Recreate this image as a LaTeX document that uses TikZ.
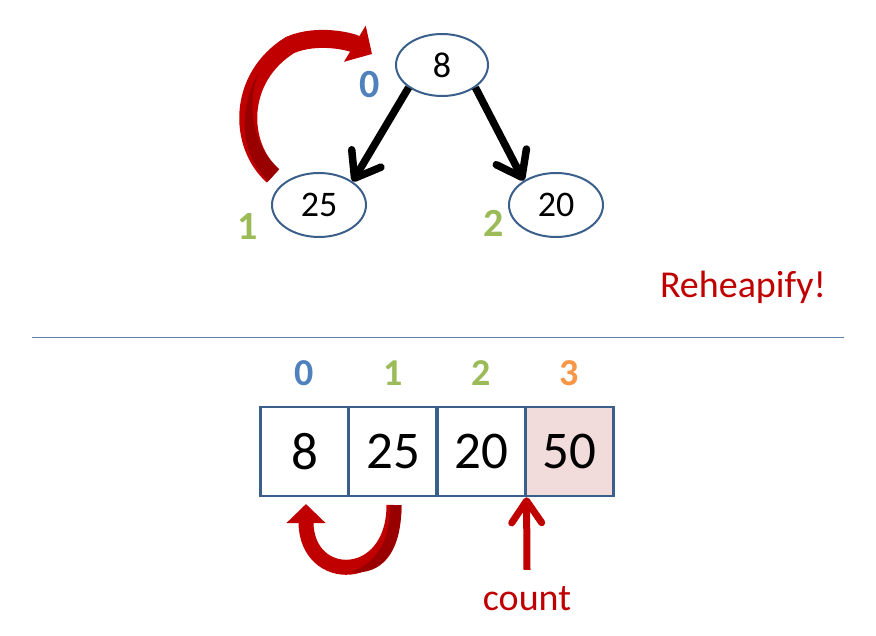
\documentclass[tikz,border=0pt]{standalone}
\usepackage{fontspec}
\setmainfont{Carlito}
\usetikzlibrary{arrows.meta,shapes.geometric}
\definecolor{nodeblue}{HTML}{3A5F8B}
\definecolor{idxblue}{HTML}{4F81BD}
\definecolor{idxgreen}{HTML}{9BBB59}
\definecolor{idxorange}{HTML}{F79646}
\definecolor{myred}{HTML}{C00000}
\definecolor{darkred}{HTML}{990000}
\definecolor{pinkfill}{HTML}{F2DCDB}
\definecolor{sepcol}{HTML}{5F7FA8}
\begin{document}
\begin{tikzpicture}[x=1pt,y=-1pt,
  treenode/.style={ellipse, draw=nodeblue, line width=2pt, minimum width=92pt, minimum height=62pt, inner sep=0pt, font=\fontsize{36}{43}\selectfont},
  cell/.style={rectangle, draw=nodeblue, line width=2.6pt, minimum width=88.5pt, minimum height=89pt, inner sep=0pt, font=\fontsize{53}{62}\selectfont},
  idx/.style={font=\bfseries\fontsize{38}{45}\selectfont, inner sep=0pt, anchor=base},
  treeidx/.style={font=\bfseries\fontsize{40}{48}\selectfont, inner sep=0pt, anchor=base},
  redtext/.style={text=myred, font=\fontsize{38}{45}\selectfont, inner sep=0pt, anchor=base},
  treearrow/.style={line width=7.5pt, -{Straight Barb[round, length=23pt, width=34pt]}},
  countarrow/.style={draw=myred, line width=7pt, -{Straight Barb[round, length=22pt, width=30pt]}},
  bigredtop/.style={draw=myred, line width=18pt, -{Triangle[length=20pt, width=41pt]}},
  bigredbot/.style={draw=myred, line width=15pt, -{Triangle[length=19pt, width=38pt]}},
  sepline/.style={draw=sepcol, line width=1pt}
]
\useasboundingbox (0,0) rectangle (876,636);

% tree
\node[treenode] (n8) at (442,65) {8};
\node[treenode, minimum width=94pt, minimum height=64pt] (n25) at (319,205) {25};
\node[treenode, minimum width=94pt, minimum height=64pt] (n20) at (556,205) {20};
\draw[treearrow] (n8.214) -- (n25.35);
\draw[treearrow] (n8.326) -- (n20.143);

\node[treeidx, text=idxblue] (t0) at (370,98) {0};
\node[treeidx, text=idxgreen] (t1) at (248,240) {1};
\node[treeidx, text=idxgreen] (t2) at (494,237) {2};

% top curved red arrow
\draw[bigredtop] (273,176) .. controls (238,145) and (237,78) .. (290,45)
   .. controls (318,33) and (352,42) .. (372,54);
\fill[darkred] (268.5,181) -- (279,169) .. controls (250,143) and (247,100) .. (259,72)
   .. controls (242,100) and (235,150) .. (268.5,181) -- cycle;

% heading
\node[redtext] (reh) at (743,298) {Reheapify!};

% separator
\coordinate (sepL) at (32,338);
\coordinate (sepR) at (844,338);
\draw[sepline] (sepL) -- (sepR);

% array
\node[cell] (c0) at (304.5,451.5) {8};
\node[cell] (c1) at (393,451.5) {25};
\node[cell] (c2) at (481,451.5) {20};
\node[cell, fill=pinkfill] (c3) at (569.5,451.5) {50};

\node[idx, text=idxblue] (i0) at (304.5,386) {0};
\node[idx, text=idxgreen] (i1) at (393,386) {1};
\node[idx, text=idxgreen] (i2) at (481,386) {2};
\node[idx, text=idxorange] (i3) at (569.5,386) {3};

% bottom U arrow
\draw[bigredbot] (394,505) .. controls (394,585) and (306,585) .. (306,504);
\fill[darkred] (390,505) -- (401.5,505) .. controls (401.5,555) and (380,575) .. (352,572)
   .. controls (375,562) and (390,545) .. (390,505) -- cycle;

% count
\node[redtext] (count) at (527,610) {count};
\draw[countarrow] ([yshift=16pt]count.north) -- (c2.south east);
\end{tikzpicture}
\end{document}
